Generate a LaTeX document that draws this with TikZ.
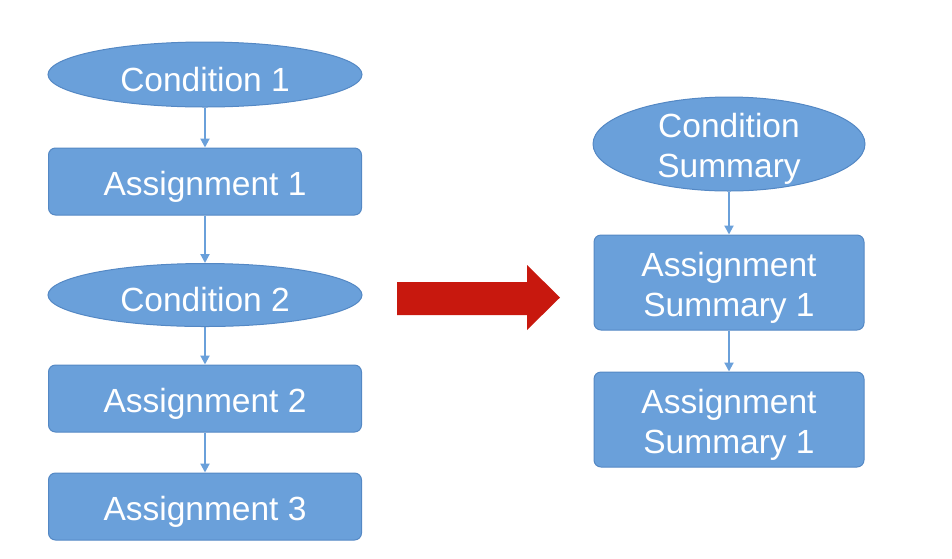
\documentclass[tikz,border=0pt]{standalone}
\usepackage{fontspec}
\setmainfont{Liberation Sans}
\usetikzlibrary{shapes.geometric,arrows.meta}
\definecolor{boxblue}{RGB}{106,160,218}
\definecolor{edgeblue}{RGB}{84,136,196}
\definecolor{arrred}{RGB}{200,24,14}
\begin{document}
\begin{tikzpicture}[x=1pt,y=-1pt,
  base/.style={fill=boxblue,draw=edgeblue,line width=1pt,inner sep=0pt},
  txt/.style={text=white,font=\fontsize{33.5}{40}\selectfont,align=center,inner sep=0pt,yshift=-5pt},
  cond/.style={base,ellipse},
  assign/.style={base,rectangle,rounded corners=7pt},
  link/.style={draw=boxblue,line width=2pt,-{Triangle[length=9pt,width=9pt]}}]
\useasboundingbox (0,0) rectangle (952,558);
% left column
\node[cond,minimum width=314pt,minimum height=65pt,label={[txt]center:Condition 1}] (c1) at (205,74.5) {};
\node[assign,minimum width=313pt,minimum height=67pt,label={[txt]center:Assignment 1}] (a1) at (205,181.5) {};
\node[cond,minimum width=314pt,minimum height=63pt,label={[txt]center:Condition 2}] (c2) at (205,295) {};
\node[assign,minimum width=313pt,minimum height=67pt,label={[txt]center:Assignment 2}] (a2) at (205,398.5) {};
\node[assign,minimum width=313pt,minimum height=67pt,label={[txt]center:Assignment 3}] (a3) at (205,506.5) {};
\draw[link] (c1) -- (a1);
\draw[link] (a1) -- (c2);
\draw[link] (c2) -- (a2);
\draw[link] (a2) -- (a3);
% right column
\node[cond,minimum width=272pt,minimum height=94pt,label={[txt]center:Condition\\Summary}] (cs) at (729,144) {};
\node[assign,minimum width=270pt,minimum height=95pt,label={[txt]center:Assignment\\Summary 1}] (as1) at (729,282.5) {};
\node[assign,minimum width=270pt,minimum height=95pt,label={[txt]center:Assignment\\Summary 1}] (as2) at (729,419.5) {};
\draw[link] (cs) -- (as1);
\draw[link] (as1) -- (as2);
% big red arrow
\fill[arrred] (397,282) -- (527,282) -- (527,265) -- (560,297.5) -- (527,330) -- (527,315) -- (397,315) -- cycle;
\end{tikzpicture}
\end{document}
